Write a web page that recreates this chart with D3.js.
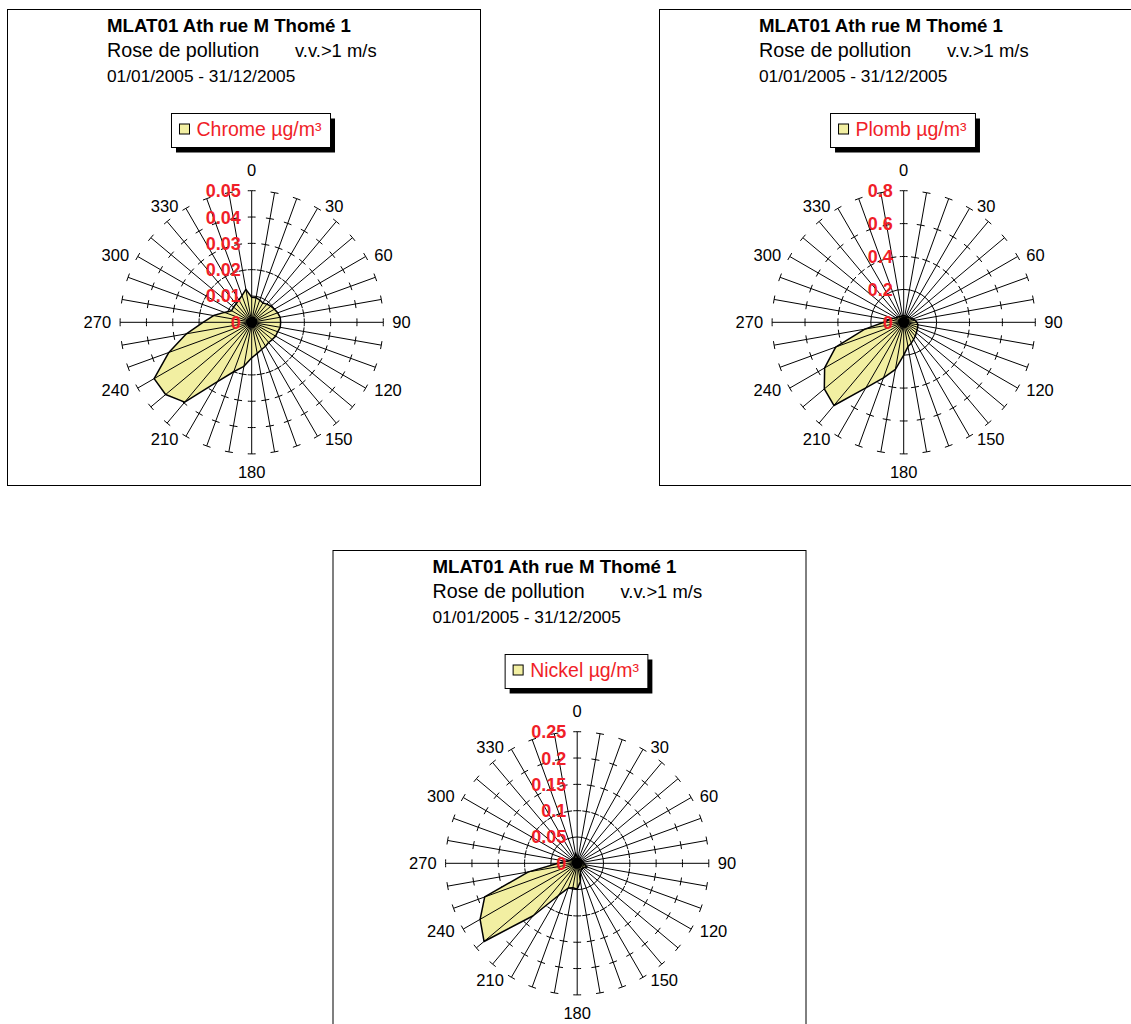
<!DOCTYPE html>
<html><head><meta charset="utf-8">
<script src="https://cdn.jsdelivr.net/npm/d3@7"></script>
<style>
body{margin:0;background:#fff}
svg{display:block}
text{font-family:"Liberation Sans",Arial,Helvetica,sans-serif}
</style>
</head><body>
<svg id="chart" width="1131" height="1024"></svg>
<script>
// ---- data ----
const directions = [0,10,20,30,40,50,60,70,80,90,100,110,120,130,140,150,160,170,180,190,200,210,220,230,240,250,260,270,280,290,300,310,320,330,340,350];
const angleLabels = [0,30,60,90,120,150,180,210,240,270,300,330];
const chromeValues = [0.0095,0.0095,0.009,0.0085,0.009,0.0095,0.010,0.0105,0.011,0.011,0.011,0.0105,0.0105,0.0102,0.010,0.0105,0.011,0.012,0.0135,0.017,0.020,0.026,0.0396,0.0427,0.0428,0.0335,0.0252,0.0185,0.0147,0.011,0.0088,0.009,0.0092,0.0098,0.0108,0.0127];
const plombValues = [0.04,0.04,0.04,0.04,0.04,0.045,0.05,0.06,0.07,0.08,0.088,0.09,0.094,0.10,0.11,0.12,0.135,0.15,0.20,0.29,0.36,0.46,0.66,0.63,0.555,0.44,0.24,0.12,0.09,0.07,0.055,0.05,0.045,0.04,0.04,0.04];
const nickelValues = [0.012,0.01,0.01,0.01,0.01,0.01,0.01,0.011,0.012,0.013,0.015,0.02,0.016,0.014,0.014,0.015,0.018,0.035,0.049,0.047,0.05,0.07,0.13,0.231,0.213,0.187,0.094,0.036,0.022,0.016,0.013,0.012,0.012,0.012,0.013,0.02];
const chromeTicks = [0,0.01,0.02,0.03,0.04,0.05];
const plombTicks = [0,0.2,0.4,0.6,0.8];
const nickelTicks = [0,0.05,0.1,0.15,0.2,0.25];
const titleText = "MLAT01 Ath rue M Thomé 1";
const subtitleText = "Rose de pollution";
const windText = "v.v.>1 m/s";
const periodText = "01/01/2005 - 31/12/2005";
const seriesNames = ["Chrome µg/m³","Plomb µg/m³","Nickel µg/m³"];

// ---- styling / layout ----
const RED = "#f01e28";
const FILL = "#f2efa2";
const cx = 251.7, cy = 322.3, R = 131.6;

const panels = [
  {name: seriesNames[0], values: chromeValues, ticks: chromeTicks, ox: 0, oy: 0},
  {name: seriesNames[1], values: plombValues, ticks: plombTicks, ox: 652, oy: 0},
  {name: seriesNames[2], values: nickelValues, ticks: nickelTicks, ox: 325.5, oy: 541}
];

const svg = d3.select("#chart");
svg.append("rect").attr("width",1131).attr("height",1024).attr("fill","#fff");

panels.forEach(p => {
  const g = svg.append("g").attr("transform", `translate(${p.ox},${p.oy})`);
  // frame
  g.append("rect").attr("x",7.5).attr("y",9.5).attr("width",473).attr("height",476)
    .attr("fill","#fff").attr("stroke","#000").attr("stroke-width",1);
  // titles
  g.append("text").attr("x",107).attr("y",31.5).attr("font-size",18.7).attr("font-weight","bold").text(titleText);
  g.append("text").attr("x",107).attr("y",57).attr("font-size",19.7).text(subtitleText);
  g.append("text").attr("x",295).attr("y",57).attr("font-size",18.4).text(windText);
  g.append("text").attr("x",107).attr("y",81.5).attr("font-size",17.3).text(periodText);

  // legend
  const lg = g.append("g");
  const lt = lg.append("text").attr("font-size",19.5).attr("fill",RED).text(p.name);
  const tw = lt.node().getComputedTextLength();
  const bw = 25 + tw + 9, bx = 251 - bw/2, by = 113.5, bh = 34;
  lg.insert("rect","text").attr("x",bx+4.5).attr("y",by+5).attr("width",bw).attr("height",bh).attr("fill","#000");
  lg.insert("rect","text").attr("x",bx).attr("y",by).attr("width",bw).attr("height",bh).attr("fill","#fff").attr("stroke","#000").attr("stroke-width",1);
  lg.append("rect").attr("x",bx+8).attr("y",by+10.5).attr("width",10).attr("height",10)
    .attr("fill",FILL).attr("stroke","#000").attr("stroke-width",1);
  lt.attr("x",bx+25).attr("y",by+22);
  lt.raise();

  // radar
  const maxV = p.ticks[p.ticks.length-1];
  const r = d3.scaleLinear().domain([0,maxV]).range([0,R]);
  const toRad = d => d*Math.PI/180;
  const pg = g.append("g").attr("transform",`translate(${cx},${cy})`);

  // gridline rings (dashes centered on spokes)
  p.ticks.filter(t => t>0).forEach(t => {
    const rr = r(t);
    const Lu = 8/(2*Math.PI*rr)*360;
    const c = pg.append("circle").attr("r",rr).attr("fill","none").attr("stroke","#000").attr("stroke-width",1)
      .attr("pathLength",360);
    if (Lu < 10) c.attr("stroke-dasharray",`${Lu} ${10-Lu}`).attr("stroke-dashoffset",Lu/2);
  });

  // filled area
  const line = d3.lineRadial()
    .angle((d,i) => toRad(directions[i]))
    .radius(d => r(d))
    .curve(d3.curveLinearClosed);
  pg.append("path").attr("d",line(p.values)).attr("fill",FILL).attr("stroke","none");

  // spokes
  pg.selectAll("line.spoke").data(directions).join("line").attr("class","spoke")
    .attr("x1",0).attr("y1",0)
    .attr("x2",d => R*Math.sin(toRad(d))).attr("y2",d => -R*Math.cos(toRad(d)))
    .attr("stroke","#000").attr("stroke-width",1);

  // outline
  pg.append("path").attr("d",line(p.values)).attr("fill","none").attr("stroke","#000").attr("stroke-width",1.5).attr("stroke-linejoin","round");
  pg.append("circle").attr("r",5.5).attr("fill","#000");

  // angle labels
  angleLabels.forEach(a => {
    const s = Math.sin(toRad(a)), co = Math.cos(toRad(a));
    const t = pg.append("text").attr("font-size",16.5).attr("text-anchor","middle").text(a);
    const w = t.node().getComputedTextLength();
    let x = s*(R+3), y = -co*(R+3);
    if (Math.abs(s) > 0.01) x += Math.sign(s)*(w/2+6);
    else y += co > 0 ? -18 : 15;
    t.attr("x",x).attr("y",y+6);
  });

  // value labels
  p.ticks.forEach(t => {
    pg.append("text").attr("font-size",18).attr("font-weight","bold").attr("fill",RED)
      .attr("text-anchor","end").attr("x",-11).attr("y",-r(t)+6.5).text(t);
  });
});
</script>
</body></html>
